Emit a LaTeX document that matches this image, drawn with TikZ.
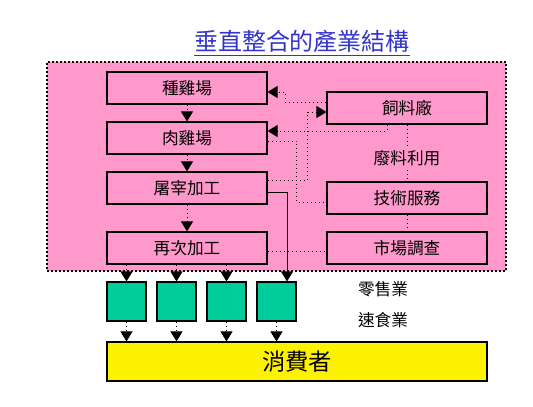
\documentclass[tikz,border=0pt]{standalone}
\usepackage{fontspec}
\newfontfamily\cjk{Noto Sans CJK TC}
\usetikzlibrary{arrows.meta,positioning,calc}
\definecolor{panelpink}{HTML}{FF99CC}
\definecolor{outletgreen}{HTML}{00CC99}
\definecolor{titleblue}{HTML}{3333CC}

\begin{document}
\begin{tikzpicture}[
    x=0.75pt, y=-0.75pt,
    font=\cjk\fontsize{12.5}{14}\selectfont,
    panel/.style={draw, fill=panelpink, line width=1.3pt, dash pattern=on 1.5pt off 1.5pt, minimum width=344.25pt, minimum height=156.75pt, inner sep=0pt},
    stage/.style={draw, line width=0.8pt, minimum width=120pt, minimum height=24pt, inner sep=0pt},
    outlet/.style={draw, fill=outletgreen, line width=0.8pt, minimum size=29.25pt, inner sep=0pt},
    consumer/.style={draw, fill=yellow, line width=0.8pt, minimum width=285pt, minimum height=29.25pt, font=\cjk\fontsize{17.5}{20}\selectfont},
    tip/.style={-{Triangle[length=7.5pt, width=9pt]}},
    flow/.style={tip, line width=0.75pt, dash pattern=on 0.75pt off 2.25pt},
    link/.style={line width=0.75pt, dash pattern=on 0.75pt off 2.25pt},
    solidflow/.style={tip, line width=0.75pt}
]
\useasboundingbox (0,0) rectangle (533,407);

\node[font=\cjk\fontsize{18}{21}\selectfont, text=titleblue] (title) at (302,43) {\underline{垂直整合的產業結構}};
\node[panel] (panel) at (276.5,166.5) {};

% production chain
\node[stage] (breed) at (187,88) {種雞場};
\node[stage] (broiler) at (187,138) {肉雞場};
\node[stage] (slaughter) at (187,188) {屠宰加工};
\node[stage] (reproc) at (187,248) {再次加工};

% support side
\node[stage] (feed) at (407,108) {飼料廠};
\node (waste) at (407,158) {廢料利用};
\node[stage] (tech) at (407,198) {技術服務};
\node[stage] (market) at (407,248) {市場調查};

% outlets
\foreach \i/\x in {1/126.5, 2/176.5, 3/226.5, 4/276.5}
  \node[outlet] (out\i) at (\x,301.5) {};
\node (retail) at (383,289) {零售業};
\node (fastfood) at (383,320) {速食業};
\node[consumer] (cons) at (297,361.5) {消費者};

\draw[flow] (breed) -- (broiler);
\draw[flow] (broiler) -- (slaughter);
\draw[flow] (slaughter) -- (reproc);

\draw[flow] ([yshift=4.5pt]feed.west) -- ++(-41,0) |- ([yshift=-3pt]breed.east);
\draw[flow] ([yshift=6pt]slaughter.east) -- ++(40,0) |- ([yshift=-3pt]feed.west);
\draw[flow] ([xshift=-15pt]feed.south) |- ([yshift=5.25pt]broiler.east);
\draw[link] ([yshift=-2.25pt]broiler.east) -- ++(29,0) |- ([yshift=-3pt]tech.west);
\draw[link] ([yshift=-2.25pt]reproc.east) -- ([yshift=-2.25pt]market.west);
\draw[link] (feed) -- (waste);
\draw[link] (waste) -- (tech);
\draw[link] (tech) -- (market);

\draw[solidflow] ([yshift=-3pt]slaughter.east) -| ([xshift=7.9pt]out4.north);
\foreach \i in {1,2,3}
  \draw[flow] (reproc.south -| out\i) -- (out\i.north);
\foreach \i in {1,2,3,4}
  \draw[flow] (out\i.south) -- (cons.north -| out\i);
\end{tikzpicture}
\end{document}
